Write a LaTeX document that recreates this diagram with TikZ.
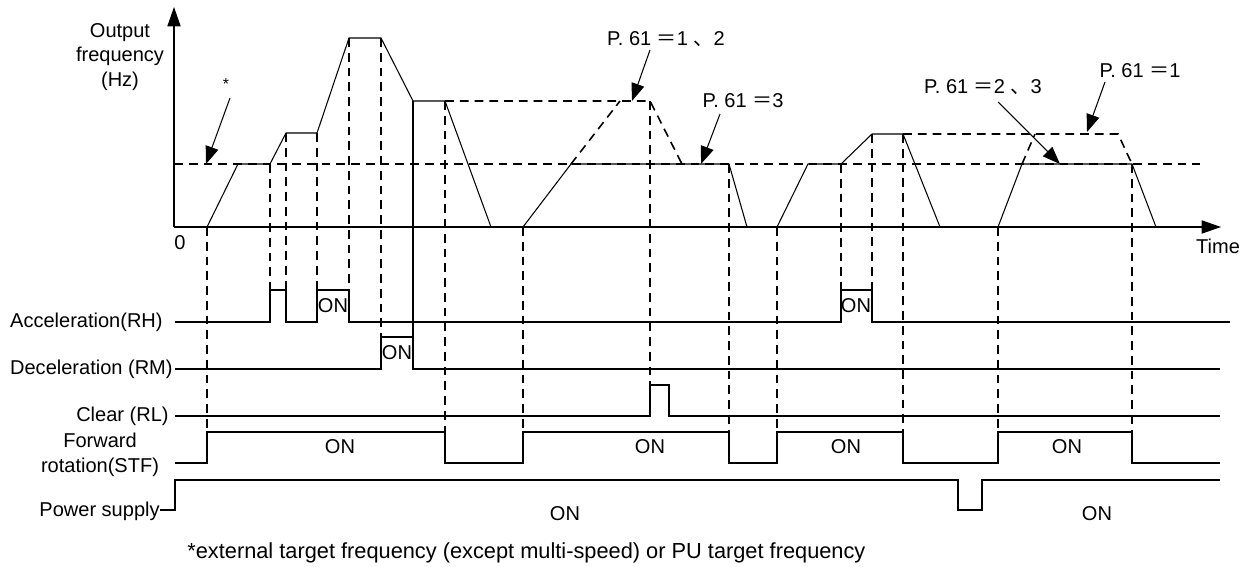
\documentclass[tikz,border=0pt]{standalone}
\usepackage{fontspec}
\setmainfont{Liberation Sans}
\newfontfamily\cjk{Noto Sans CJK SC}
\usetikzlibrary{arrows.meta, positioning}

\tikzset{
  wave/.style={line width=0.6pt},
  guide/.style={line width=1.2pt, dash pattern=on 5pt off 3.4pt},
  level/.style={line width=0.9pt, dash pattern=on 5pt off 3.4pt},
  callout/.style={line width=0.6pt, -{Triangle[length=10pt,width=7.5pt]}},
  lbl/.style={font=\fontsize{11.4}{14}\selectfont, inner sep=0pt},
}

\begin{document}
\begin{tikzpicture}[x=0.02cm, y=-0.02cm]
  \useasboundingbox (0,0) rectangle (1250,567);

  % axes
  \draw[wave, -{Triangle[length=11pt,width=7.5pt]}] (174,227) -- (174,7);
  \draw[wave, -{Triangle[length=11pt,width=7.5pt]}] (174,227) -- (1221,227);
  \node[lbl, align=center] (freq) at (120,57) {Output\\frequency\\(Hz)};
  \node[lbl] (zero) at (180,243) {0};
  \node[lbl] (time) at (1218,246) {Time};

  % reference levels
  \draw[level] (174,164) -- (1200,164);
  \draw[level] (445,101) -- (620,101) -- (650,101) -- (682,164);
  \draw[level] (571,164) -- (620,101);
  \draw[level] (903,134) -- (1118,134) -- (1132,164);
  \draw[level] (1022,164) -- (1035,134);

  % output frequency
  \draw[wave] (207,227) -- (238,164) -- (270,164) -- (286,133) -- (317,133)
              -- (349,38) -- (381,38) -- (413,101) -- (445,101) -- (491,227);
  \draw[wave] (523,227) -- (571,164) -- (729,164) -- (747,227);
  \draw[wave] (777,227) -- (808,164) -- (841,164) -- (872,134) -- (903,134) -- (940,227);
  \draw[wave] (998,227) -- (1022,164) -- (1132,164) -- (1156,227);
  \draw[wave] (413,101) -- (413,337);

  % guide lines down to the signals
  \foreach \x/\top/\bot in {207/227/432, 270/164/290, 286/133/290, 317/133/290,
      349/38/290, 381/38/337, 445/101/432, 523/227/432, 650/101/385,
      729/164/432, 777/227/432, 841/164/290, 872/134/290, 903/134/432,
      998/227/432, 1132/164/432}
    \draw[guide] (\x,\top) -- (\x,\bot);

  % signals
  \node[lbl, anchor=east] (rh) at (163,322) {Acceleration(RH)};
  \draw[wave] (175,322) -- (270,322) -- (270,290) -- (286,290) -- (286,322)
              -- (317,322) -- (317,290) -- (349,290) -- (349,322)
              -- (841,322) -- (841,290) -- (872,290) -- (872,322) -- (1230,322);
  \node[lbl] (rh-on1) at (333,306) {ON};
  \node[lbl] (rh-on2) at (856,306) {ON};

  \node[lbl, anchor=east] (rm) at (173,369) {Deceleration (RM)};
  \draw[wave] (175,369) -- (381,369) -- (381,337) -- (413,337) -- (413,369) -- (1220,369);
  \node[lbl] (rm-on) at (397,353) {ON};

  \node[lbl, anchor=east] (rl) at (169,416) {Clear (RL)};
  \draw[wave] (175,416) -- (650,416) -- (650,385) -- (669,385) -- (669,416) -- (1220,416);

  \node[lbl, align=center] (stf) at (100,455) {Forward\\rotation(STF)};
  \draw[wave] (175,463) -- (207,463) -- (207,432) -- (445,432) -- (445,463)
              -- (523,463) -- (523,432) -- (729,432) -- (729,463)
              -- (777,463) -- (777,432) -- (903,432) -- (903,463)
              -- (998,463) -- (998,432) -- (1132,432) -- (1132,463) -- (1220,463);
  \foreach \x [count=\i] in {340,650,846,1067}
    \node[lbl] (stf-on\i) at (\x,447) {ON};

  \node[lbl, anchor=east] (pwr) at (160,511) {Power supply};
  \draw[wave] (160,510) -- (175,510) -- (175,480) -- (958,480) -- (958,510)
              -- (982,510) -- (982,480) -- (1220,480);
  \node[lbl] (pwr-on1) at (565,514) {ON};
  \node[lbl] (pwr-on2) at (1097,514) {ON};

  % callouts
  \node[lbl, font=\small] (star) at (226,84) {*};
  \coordinate (star-from) at (230,98);
  \coordinate (star-tip) at (206,164);
  \draw[callout] (star-from) -- (star-tip);

  \node[lbl] (p12) at (666,39) {P. 61 {\cjk ＝}1 {\cjk 、}2};
  \coordinate (p12-from) at (650,50);
  \coordinate (p12-tip) at (632,101);
  \draw[callout] (p12-from) -- (p12-tip);

  \node[lbl] (p3) at (743,101) {P. 61 {\cjk ＝}3};
  \coordinate (p3-from) at (720,114);
  \coordinate (p3-tip) at (701,164);
  \draw[callout] (p3-from) -- (p3-tip);

  \node[lbl] (p23) at (983,87) {P. 61 {\cjk ＝}2 {\cjk 、}3};
  \coordinate (p23-from) at (998,102);
  \coordinate (p23-tip) at (1060,164);
  \draw[callout] (p23-from) -- (p23-tip);

  \node[lbl] (p1) at (1140,71) {P. 61 {\cjk ＝}1};
  \coordinate (p1-from) at (1105,82);
  \coordinate (p1-tip) at (1087,132);
  \draw[callout] (p1-from) -- (p1-tip);

  % footnote
  \node[lbl, anchor=west, font=\fontsize{12.4}{15}\selectfont] (note) at (187,553)
    {*external target frequency (except multi-speed) or PU target frequency};
\end{tikzpicture}
\end{document}
